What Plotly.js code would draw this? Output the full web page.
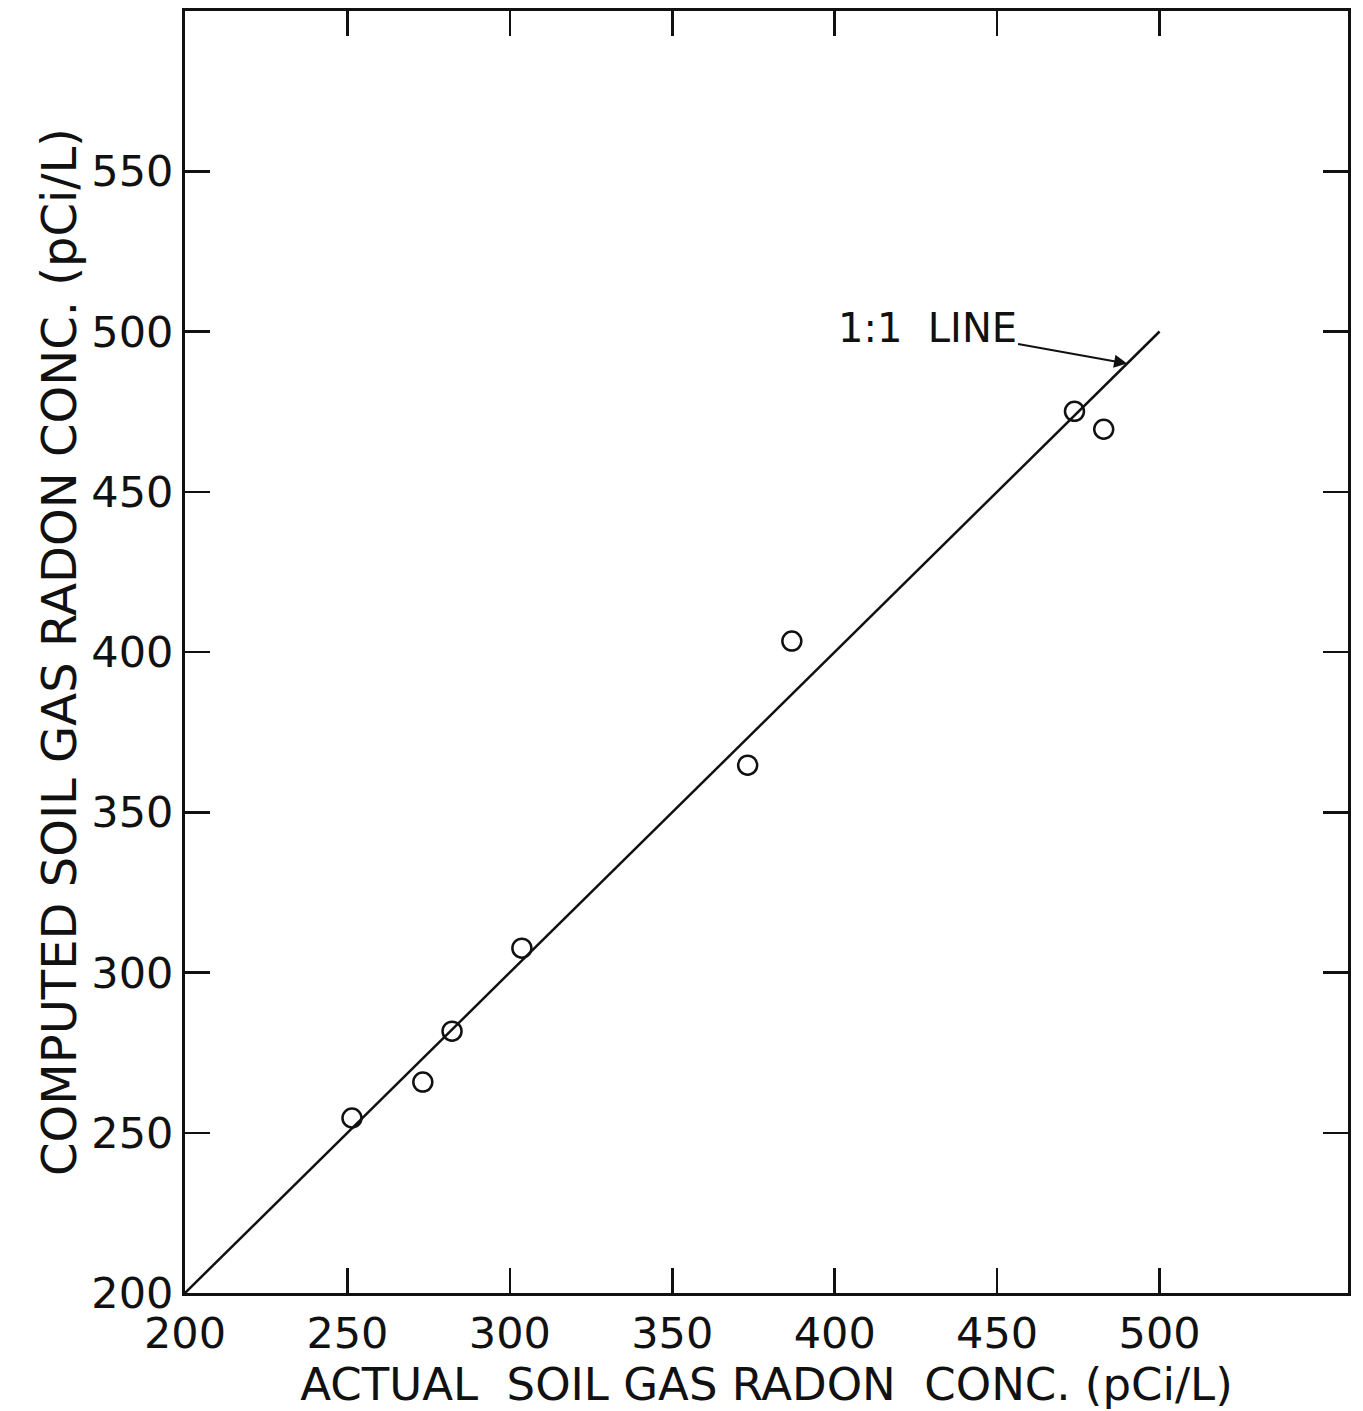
<!DOCTYPE html>
<html>
<head>
<meta charset="utf-8">
<script src="https://cdn.plot.ly/plotly-3.0.1.min.js"></script>
<style>html,body{margin:0;padding:0;background:#fff;}#chart{width:1363px;height:1411px;}</style>
</head>
<body>
<div id="chart"></div>
<script>
const actual = [251.4, 273.2, 282.2, 303.7, 373.2, 386.8, 473.8, 482.8];
const computed = [254.6, 265.8, 281.7, 307.6, 364.7, 403.4, 475.1, 469.5];
const lineX = [200, 500];
const lineY = [200, 500];
const xTicks = [200, 250, 300, 350, 400, 450, 500];
const yTicks = [200, 250, 300, 350, 400, 450, 500, 550];
const xTitle = 'ACTUAL  SOIL GAS RADON  CONC. (pCi/L)';
const yTitle = 'COMPUTED SOIL GAS RADON CONC. (pCi/L)';
const lineLabel = '1:1  LINE';

const font = 'DejaVu Sans, sans-serif';
const traces = [
  {x: lineX, y: lineY, mode: 'lines', line: {color: '#111', width: 2.5}, showlegend: false, hoverinfo: 'skip'},
  {x: actual, y: computed, mode: 'markers', marker: {symbol: 'circle-open', size: 19, color: '#111', line: {width: 2.5, color: '#111'}}, showlegend: false}
];
const axisCommon = {
  showgrid: false, zeroline: false, showline: true, linecolor: '#111', linewidth: 3,
  mirror: 'allticks', ticks: 'inside', ticklen: 25, tickwidth: 2.5, tickcolor: '#111',
  tickfont: {family: font, size: 43, color: '#111'}
};
const layout = {
  width: 1363, height: 1411,
  margin: {l: 185, r: 15, t: 11, b: 118},
  paper_bgcolor: '#fff', plot_bgcolor: '#fff',
  xaxis: Object.assign({}, axisCommon, {
    range: [200, 558], tickvals: xTicks, ticktext: xTicks.map(String),
    title: {text: xTitle, font: {family: font, size: 45, color: '#111'}, standoff: 0}
  }),
  yaxis: Object.assign({}, axisCommon, {
    range: [200, 600], tickvals: yTicks, ticktext: yTicks.map(String),
    title: {text: yTitle, font: {family: font, size: 48, color: '#111'}, standoff: 0}
  }),
  annotations: [{
    x: 490, y: 490, xref: 'x', yref: 'y', text: lineLabel,
    showarrow: true, arrowhead: 2, arrowsize: 1.3, arrowwidth: 2, arrowcolor: '#111',
    ax: -200, ay: -36, font: {family: font, size: 40, color: '#111'}
  }]
};
Plotly.newPlot('chart', traces, layout, {displayModeBar: false, staticPlot: true});
</script>
</body>
</html>
